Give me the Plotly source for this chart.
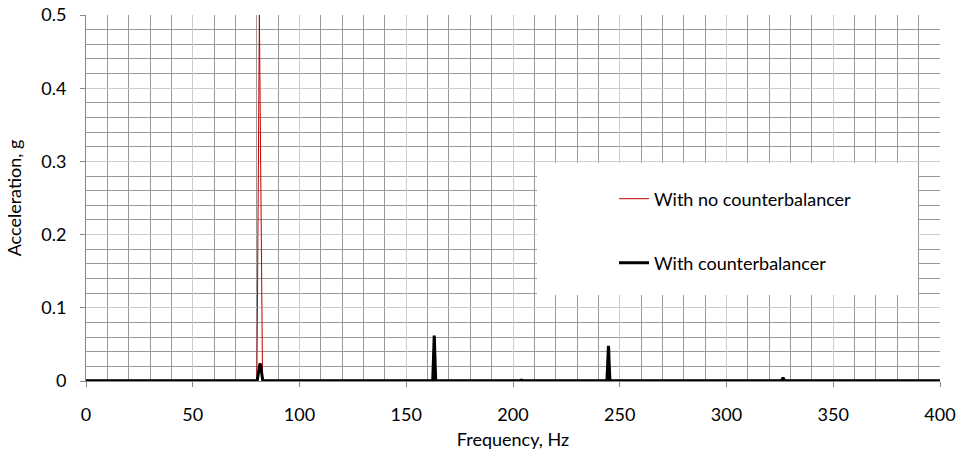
import plotly.graph_objects as go

# Frequency (Hz) and acceleration (g) sampled at key points of the spectra
freq_no_cb = [0, 80.0, 80.3, 81.2, 82.4, 82.7, 163.1, 244.7, 326.5, 400]
acc_no_cb = [0.001, 0.001, 0.1, 0.5, 0.1, 0.001, 0.001, 0.001, 0.001, 0.001]

freq_cb = [0, 80.2, 80.8, 81.2, 81.5, 81.8, 82.2, 82.8,
           162.4, 162.8, 163.0, 163.1, 163.2, 163.4, 163.8,
           203.3, 204, 204.7,
           244.0, 244.4, 244.6, 244.7, 244.8, 245.0, 245.4,
           325.8, 326.5, 327.2, 400]
acc_cb = [0.0005, 0.0005, 0.012, 0.021, 0.024, 0.021, 0.012, 0.0005,
          0.0005, 0.035, 0.058, 0.062, 0.058, 0.035, 0.0005,
          0.0005, 0.0012, 0.0005,
          0.0005, 0.027, 0.045, 0.048, 0.045, 0.027, 0.0005,
          0.0005, 0.0045, 0.0005, 0.0005]

x_ticks = [0, 50, 100, 150, 200, 250, 300, 350, 400]
y_ticks = [0, 0.1, 0.2, 0.3, 0.4, 0.5]
y_tick_text = ["0", "0.1", "0.2", "0.3", "0.4", "0.5"]

FONT = "Lato, Carlito, Calibri, sans-serif"
FS = 18

L, R, T, B = 86, 940, 15, 381
PW, PH = R - L, B - T

fig = go.Figure()
fig.add_trace(go.Scatter(x=freq_no_cb, y=acc_no_cb, mode="lines",
                         name="With no counterbalancer", legend="legend",
                         line=dict(color="#c00000", width=1)))
fig.add_trace(go.Scatter(x=freq_cb, y=acc_cb, mode="lines",
                         name="With counterbalancer", legend="legend2",
                         line=dict(color="#000000", width=3)))

# white legend panel
fig.add_shape(type="rect", xref="paper", yref="paper",
              x0=(537 - L) / PW, x1=(918 - L) / PW,
              y0=(B - 295) / PH, y1=(B - 163) / PH,
              fillcolor="white", line=dict(width=0), layer="above")

leg_common = dict(xanchor="left", yanchor="middle", bgcolor="rgba(0,0,0,0)",
                  font=dict(size=FS, family=FONT, color="#000"), itemwidth=30)

fig.update_layout(
    width=965, height=450,
    margin=dict(l=L, r=965 - R, t=T, b=450 - B),
    paper_bgcolor="white", plot_bgcolor="white",
    font=dict(family=FONT, size=FS, color="#000"),
    showlegend=True,
    legend=dict(x=(614 - L) / PW, y=(B - 199) / PH, **leg_common),
    legend2=dict(x=(614 - L) / PW, y=(B - 263) / PH, **leg_common),
    xaxis=dict(range=[0, 400], tickvals=x_ticks, ticks="outside", ticklen=5,
               tickcolor="#888", showline=True, linecolor="#888", linewidth=1,
               showgrid=True, gridcolor="#cccccc", gridwidth=1, zeroline=False,
               automargin=False, ticklabelstandoff=12,
               minor=dict(dtick=10, showgrid=True, gridcolor="#999999", gridwidth=1),
               title=dict(text="Frequency, Hz", font=dict(size=FS, family=FONT), standoff=14),
               tickfont=dict(size=FS, family=FONT)),
    yaxis=dict(range=[0, 0.5], tickvals=y_ticks, ticktext=y_tick_text, ticks="outside",
               ticklen=5, tickcolor="#888", showline=True, linecolor="#888", linewidth=1,
               showgrid=True, gridcolor="#cccccc", gridwidth=1, zeroline=False,
               automargin=False, ticklabelstandoff=10,
               minor=dict(dtick=0.02, showgrid=True, gridcolor="#999999", gridwidth=1),
               title=dict(text="Acceleration, g", font=dict(size=FS, family=FONT), standoff=14),
               tickfont=dict(size=FS, family=FONT)),
)

fig.write_html("out.html", config={"displayModeBar": False},
               post_script="document.body.style.margin='0';document.body.style.overflow='hidden';")
